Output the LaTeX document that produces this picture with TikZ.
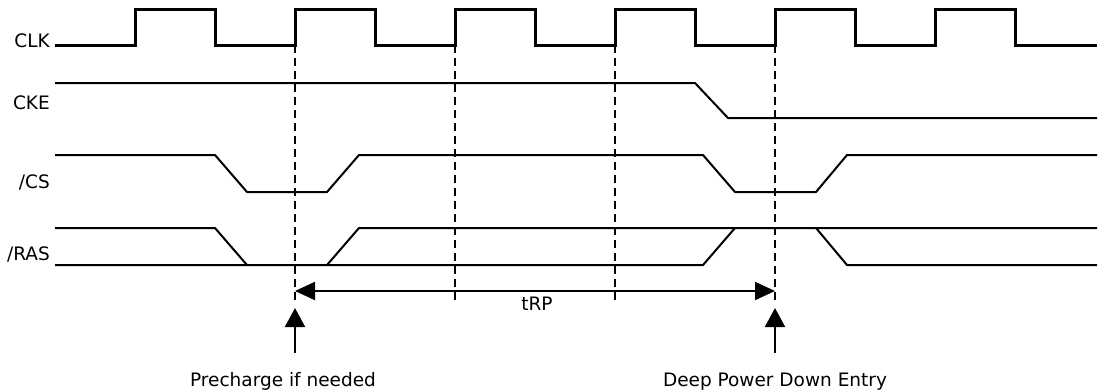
\documentclass[tikz,border=0pt]{standalone}
\usepackage{fontspec}
\setmainfont{DejaVu Sans}
\usetikzlibrary{arrows.meta}
\begin{document}
\begin{tikzpicture}[x=1pt,y=-1pt,
  sig/.style={line width=2pt, line join=miter},
  clk/.style={line width=3pt, line join=miter},
  guide/.style={line width=2.8pt, dash pattern=on 8pt off 5pt},
  lbl/.style={font=\fontsize{18.5}{20}\selectfont, inner sep=0pt},
  marker/.style={line width=2pt, -{Triangle[length=19pt,width=20pt]}},
  span/.style={line width=2pt, {Triangle[length=20pt,width=18pt]}-{Triangle[length=20pt,width=18pt]}}]
\useasboundingbox (0,0) rectangle (1099,391);
% labels
\node[lbl, anchor=base east] (clkL) at (50,47) {CLK};
\node[lbl, anchor=base east] (ckeL) at (50,109) {CKE};
\node[lbl, anchor=base east] (csL) at (50,188) {/CS};
\node[lbl, anchor=base east] (rasL) at (50,260) {/RAS};
% CLK
\draw[clk] (55,45) -- (135,45) -- (135,9) -- (215,9) -- (215,45) -- (295,45) -- (295,9) -- (375,9) -- (375,45)
  -- (455,45) -- (455,9) -- (535,9) -- (535,45) -- (615,45) -- (615,9) -- (695,9) -- (695,45)
  -- (775,45) -- (775,9) -- (855,9) -- (855,45) -- (935,45) -- (935,9) -- (1015,9) -- (1015,45) -- (1097,45);
% CKE
\draw[sig] (55,83) -- (695,83) -- (728,118) -- (1097,118);
% /CS
\draw[sig] (55,155) -- (215,155) -- (247,192) -- (327,192) -- (359,155) -- (703,155) -- (735,192) -- (816,192) -- (847,155) -- (1097,155);
% /RAS
\draw[sig] (55,228) -- (215,228) -- (247,265);
\draw[sig] (55,265) -- (703,265) -- (735,228);
\draw[sig] (327,265) -- (359,228) -- (1097,228);
\draw[sig] (816,228) -- (847,265) -- (1097,265);
% guides
\foreach \gx in {295,455,615,775} \draw[guide] (\gx,45) -- (\gx,303);
% tRP span
\coordinate (spanA) at (295,291);
\coordinate (spanB) at (775,291);
\draw[span] (spanA) -- (spanB);
\node[lbl, anchor=base] (trp) at (537,310) {tRP};
% markers
\node[lbl, anchor=base] (pre) at (283,386) {Precharge if needed};
\node[lbl, anchor=base] (dpd) at (775,386) {Deep Power Down Entry};
\coordinate (preTail) at (295,353);
\coordinate (preTip) at (295,308);
\coordinate (dpdTail) at (775,353);
\coordinate (dpdTip) at (775,308);
\draw[marker] (preTail) -- (preTip);
\draw[marker] (dpdTail) -- (dpdTip);
\end{tikzpicture}
\end{document}
